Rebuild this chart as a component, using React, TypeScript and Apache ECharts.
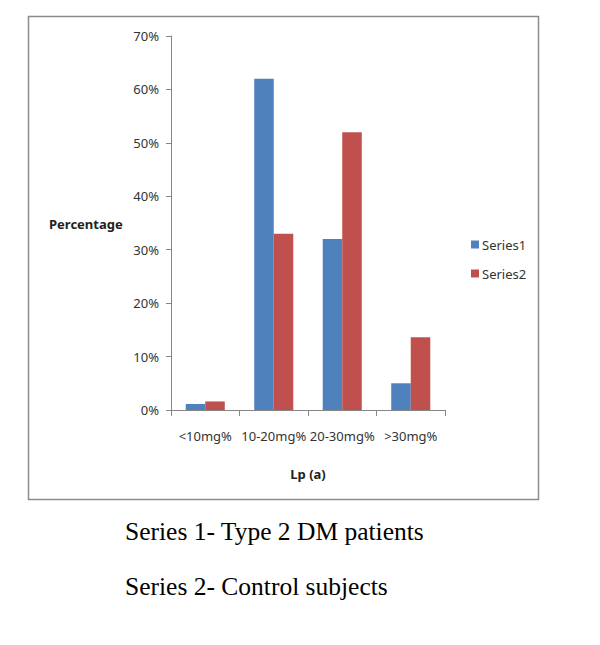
import React, { useEffect, useRef } from "react";
import * as echarts from "echarts";

const categories = ["<10mg%", "10-20mg%", "20-30mg%", ">30mg%"];
const series1 = [1.1, 62, 32, 5];
const series2 = [1.6, 33, 52, 13.6];
const seriesNames = ["Series1", "Series2"];
const notes = ["Series 1- Type 2 DM patients", "Series 2- Control subjects"];

export default function App() {
  const ref = useRef<HTMLDivElement>(null);
  useEffect(() => {
    if (!ref.current) return;
    const chart = echarts.init(ref.current, null, { renderer: "svg" });
    const axisColor = "#868686";
    const font = "'Noto Sans', 'Open Sans', sans-serif";
    chart.setOption({
      animation: false,
      backgroundColor: "#ffffff",
      grid: { left: 171, top: 36, width: 274, height: 374, containLabel: false },
      legend: {
        orient: "vertical",
        left: 466,
        top: 233,
        itemWidth: 8,
        itemHeight: 8,
        itemGap: 16,
        icon: "rect",
        data: seriesNames,
        textStyle: { fontFamily: font, fontSize: 13, color: "#333333", padding: [0, 0, 0, -2] },
      },
      xAxis: {
        type: "category",
        data: categories,
        axisLine: { show: true, lineStyle: { color: axisColor, width: 1 } },
        axisTick: { show: true, length: 6, alignWithLabel: false, lineStyle: { color: axisColor } },
        axisLabel: { margin: 19, fontFamily: font, fontSize: 13, color: "#333333", interval: 0 },
        name: "Lp (a)",
        nameLocation: "middle",
        nameGap: 57,
        nameTextStyle: { fontFamily: font, fontSize: 13, fontWeight: "bold", color: "#222222" },
      },
      yAxis: {
        type: "value",
        min: 0,
        max: 70,
        interval: 10,
        axisLine: { show: true, lineStyle: { color: axisColor, width: 1 } },
        axisTick: { show: true, length: 5, lineStyle: { color: axisColor } },
        splitLine: { show: false },
        axisLabel: { margin: 12, formatter: "{value}%", fontFamily: font, fontSize: 13, color: "#333333" },
      },
      series: [
        {
          name: seriesNames[0],
          type: "bar",
          data: series1,
          itemStyle: { color: "#4F81BD" },
          barGap: "0%",
          barCategoryGap: "43%",
        },
        {
          name: seriesNames[1],
          type: "bar",
          data: series2,
          itemStyle: { color: "#C0504D" },
          barGap: "0%",
          barCategoryGap: "43%",
        },
      ],
      graphic: [
        {
          type: "rect",
          shape: { x: 28.5, y: 16.5, width: 510, height: 483 },
          style: { fill: "none", stroke: "#8c8c8c", lineWidth: 1.5 },
          silent: true,
        },
        {
          type: "text",
          x: 49,
          y: 224,
          style: {
            text: "Percentage",
            fontFamily: font,
            fontSize: 13,
            fontWeight: "bold",
            fill: "#222222",
            verticalAlign: "middle",
          },
        },
        {
          type: "text",
          x: 125,
          y: 531,
          style: {
            text: notes[0],
            fontFamily: "'Liberation Serif', 'DejaVu Serif', serif",
            fontSize: 25.5,
            fill: "#000000",
            verticalAlign: "middle",
          },
        },
        {
          type: "text",
          x: 125,
          y: 586,
          style: {
            text: notes[1],
            fontFamily: "'Liberation Serif', 'DejaVu Serif', serif",
            fontSize: 25.5,
            fill: "#000000",
            verticalAlign: "middle",
          },
        },
      ],
    });
    return () => chart.dispose();
  }, []);
  return (
    <div
      ref={ref}
      style={{ position: "fixed", left: 0, top: 0, width: 600, height: 645, background: "#fff" }}
    />
  );
}
